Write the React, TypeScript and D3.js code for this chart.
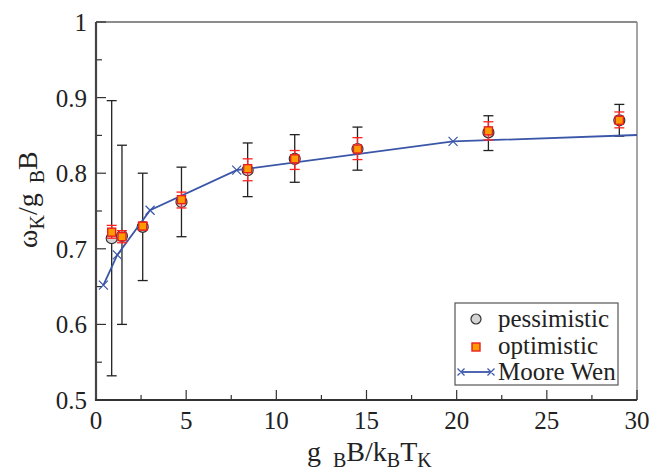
import * as d3 from 'd3'

// pessimistic estimates (x, value, lower, upper)
const PESS_X = [0.87, 1.44, 2.59, 4.74, 8.41, 11.02, 14.5, 21.76, 29.02]
const PESS_Y = [0.714, 0.717, 0.729, 0.762, 0.804, 0.819, 0.832, 0.854, 0.870]
const PESS_LO = [0.532, 0.600, 0.658, 0.716, 0.769, 0.788, 0.804, 0.830, 0.849]
const PESS_HI = [0.896, 0.837, 0.800, 0.808, 0.840, 0.851, 0.861, 0.876, 0.891]

// optimistic estimates
const OPT_X = [0.87, 1.44, 2.59, 4.74, 8.41, 11.02, 14.5, 21.76, 29.02]
const OPT_Y = [0.722, 0.716, 0.730, 0.765, 0.806, 0.819, 0.832, 0.856, 0.870]
const OPT_LO = [0.714, 0.708, 0.725, 0.754, 0.790, 0.805, 0.818, 0.844, 0.860]
const OPT_HI = [0.731, 0.724, 0.735, 0.775, 0.819, 0.830, 0.847, 0.868, 0.881]

// Moore Wen curve
const MW_X = [0.41, 1.18, 3.0, 7.8, 19.8, 30.6]
const MW_Y = [0.652, 0.692, 0.751, 0.804, 0.842, 0.851]

const X_TICKS = [0, 5, 10, 15, 20, 25, 30]
const Y_TICKS = [0.5, 0.6, 0.7, 0.8, 0.9, 1]

const TXT = { fontFamily: "'Liberation Serif'" }

export default function App() {
  const W = 663, H = 472
  const m = { left: 96, right: 26, top: 22, bottom: 72 }
  const x = d3.scaleLinear().domain([0, 30]).range([m.left, W - m.right])
  const y = d3.scaleLinear().domain([0.5, 1]).range([H - m.bottom, m.top])

  const line = d3.line<number>().x((_, i) => x(MW_X[i])).y((_, i) => y(MW_Y[i]))
  const minorX = d3.range(0, 30, 2.5).filter(v => v % 5 !== 0)
  const minorY = d3.range(0.55, 1, 0.1)

  const cross = (cx: number, cy: number, s = 4.5) =>
    `M${cx - s},${cy - s}L${cx + s},${cy + s}M${cx - s},${cy + s}L${cx + s},${cy - s}`

  const x0 = x(0), x1 = x(30), y0 = y(0.5), y1 = y(1)

  return (
    <svg width={W} height={H} style={{ position: 'absolute', left: 0, top: 0, background: '#fff' }}>
      <defs>
        <clipPath id="plot"><rect x={x0} y={y1} width={x1 - x0} height={y0 - y1} /></clipPath>
      </defs>

      {/* frame */}
      <line x1={x0} x2={x1} y1={y1} y2={y1} stroke="#666" strokeWidth={1.5} />
      <line x1={x1} x2={x1} y1={y1} y2={y0} stroke="#888" strokeWidth={1.5} />

      {/* ticks */}
      {Y_TICKS.map(v => <line key={'yt' + v} x1={x0} x2={x0 + 10} y1={y(v)} y2={y(v)} stroke="#333" strokeWidth={1.2} />)}
      {minorY.map(v => <line key={'ym' + v} x1={x0} x2={x0 + 6} y1={y(v)} y2={y(v)} stroke="#333" strokeWidth={1.2} />)}
      {X_TICKS.map(v => <line key={'xt' + v} x1={x(v)} x2={x(v)} y1={y0} y2={y0 - 10} stroke="#333" strokeWidth={1.2} />)}
      {minorX.map(v => <line key={'xm' + v} x1={x(v)} x2={x(v)} y1={y0} y2={y0 - 5} stroke="#333" strokeWidth={1.2} />)}

      <line x1={x0} x2={x0} y1={y1} y2={y0 + 1} stroke="#444" strokeWidth={2.2} />
      <line x1={x0 - 1} x2={x1} y1={y0} y2={y0} stroke="#333" strokeWidth={2.2} />

      {/* tick labels */}
      {Y_TICKS.map(v => (
        <text key={'yl' + v} style={TXT} x={x0 - 9} y={y(v)} dy="0.36em" textAnchor="end" fontSize={25} fill="#222">{d3.format('')(v)}</text>
      ))}
      {X_TICKS.map(v => (
        <text key={'xl' + v} style={TXT} x={x(v)} y={y0 + 29} textAnchor="middle" fontSize={25} fill="#222">{v}</text>
      ))}

      <g clipPath="url(#plot)">
        {/* pessimistic error bars */}
        {PESS_X.map((v, i) => (
          <g key={'pe' + i} stroke="#222" strokeWidth={1.3}>
            <line x1={x(v)} x2={x(v)} y1={y(PESS_LO[i])} y2={y(PESS_HI[i])} />
            <line x1={x(v) - 5} x2={x(v) + 5} y1={y(PESS_LO[i])} y2={y(PESS_LO[i])} />
            <line x1={x(v) - 5} x2={x(v) + 5} y1={y(PESS_HI[i])} y2={y(PESS_HI[i])} />
          </g>
        ))}
        {PESS_X.map((v, i) => (
          <circle key={'pc' + i} cx={x(v)} cy={y(PESS_Y[i])} r={5.5} fill="#d4d4d4" stroke="#333" strokeWidth={1.2} />
        ))}

        {/* Moore Wen */}
        <path d={line(MW_X) ?? ''} fill="none" stroke="#3a56a8" strokeWidth={1.8} />
        {MW_X.map((v, i) => (
          <path key={'mw' + i} d={cross(x(v), y(MW_Y[i]))} stroke="#3a56a8" strokeWidth={1.2} />
        ))}

        {/* optimistic error bars */}
        {OPT_X.map((v, i) => (
          <g key={'oe' + i} stroke="#f22" strokeWidth={1.3}>
            <line x1={x(v)} x2={x(v)} y1={y(OPT_LO[i])} y2={y(OPT_HI[i])} />
            <line x1={x(v) - 5} x2={x(v) + 5} y1={y(OPT_LO[i])} y2={y(OPT_LO[i])} />
            <line x1={x(v) - 5} x2={x(v) + 5} y1={y(OPT_HI[i])} y2={y(OPT_HI[i])} />
          </g>
        ))}
        {OPT_X.map((v, i) => (
          <rect key={'os' + i} x={x(v) - 4} y={y(OPT_Y[i]) - 4} width={8} height={8} fill="#ff9a00" stroke="#e82020" strokeWidth={1.4} />
        ))}
      </g>

      {/* legend */}
      <rect x={455} y={303} width={163} height={82} fill="#fff" stroke="#555" strokeWidth={1.2} />
      <circle cx={476} cy={319} r={5} fill="#d4d4d4" stroke="#333" strokeWidth={1.2} />
      <rect x={472} y={343} width={8} height={8} fill="#ff9a00" stroke="#e82020" strokeWidth={1.4} />
      <line x1={461} x2={491} y1={372} y2={372} stroke="#3a56a8" strokeWidth={1.8} />
      <path d={cross(461, 372, 3.5) + cross(491, 372, 3.5)} stroke="#3a56a8" strokeWidth={1.2} />
      <text style={TXT} x={498} y={327} fontSize={25} fill="#222">pessimistic</text>
      <text style={TXT} x={498} y={354} fontSize={25} fill="#222">optimistic</text>
      <text style={TXT} x={498} y={380} fontSize={25} fill="#222">Moore Wen</text>

      {/* axis titles */}
      <text style={TXT} x={307} y={461} fontSize={28} fill="#222">
        g<tspan dx={12} dy={6} fontSize={20}>B</tspan>
        <tspan dy={-6}>B/k</tspan>
        <tspan dy={6} fontSize={20}>B</tspan>
        <tspan dy={-6}>T</tspan>
        <tspan dy={6} fontSize={20}>K</tspan>
      </text>
      <text style={TXT} transform="translate(37,248) rotate(-90)" fontSize={28} fill="#222">
        ω<tspan dy={7} fontSize={20}>K</tspan>
        <tspan dy={-7}>/g</tspan>
        <tspan dx={10} dy={7} fontSize={20}>B</tspan>
        <tspan dy={-7}>B</tspan>
      </text>
    </svg>
  )
}
